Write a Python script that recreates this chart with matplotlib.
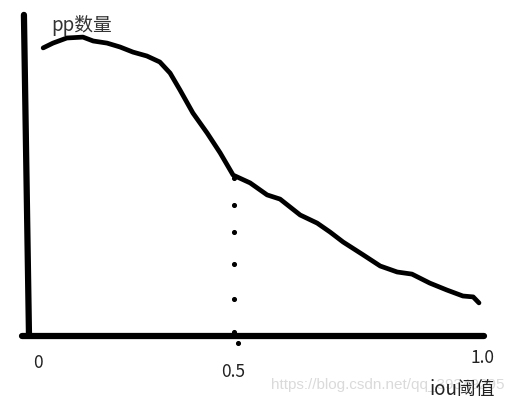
import matplotlib
matplotlib.use('Agg')
from matplotlib import pyplot as plt

plt.rcParams['font.family'] = ['Noto Sans CJK SC', 'DejaVu Sans']

# hand-drawn curve: iou threshold (x) vs pp count (y, arbitrary units)
iou = [0.016, 0.038, 0.069, 0.105, 0.128, 0.159, 0.188, 0.217, 0.248, 0.277,
       0.300, 0.322, 0.351, 0.383, 0.412, 0.441, 0.479, 0.517, 0.546, 0.591,
       0.629, 0.658, 0.687, 0.732, 0.770, 0.808, 0.841, 0.881, 0.919, 0.955,
       0.978, 0.991]
pp_count = [95.7, 97.3, 99.0, 99.3, 98.0, 97.3, 96.0, 94.3, 93.0, 91.0,
            87.3, 81.7, 74.0, 67.3, 60.7, 53.3, 50.7, 46.7, 45.3, 40.0,
            37.3, 34.3, 31.0, 26.7, 23.0, 21.0, 20.3, 17.3, 15.0, 13.0,
            12.7, 10.7]

# dotted marker at threshold 0.5
dot_x = [0.443, 0.443, 0.443, 0.443, 0.443, 0.443, 0.452]
dot_y = [52.3, 43.3, 34.3, 23.7, 12.0, 1.0, -2.7]

tick_labels = ['0', '0.5', '1.0']
# (x, y) in pixels of the sketch, where each label was written
tick_pix = [(38, 363), (233, 372), (483, 358)]

fig = plt.figure(figsize=(5.2, 4.03), dpi=100)
ax = fig.add_axes([0, 0, 1, 1])
ax.set_xlim(-36 / 447, 484 / 447)
ax.set_ylim(-68 / 3, 335 / 3)
ax.axis('off')

# thick hand-drawn axes
ax.plot([-0.0270, -0.0157], [106.7, 0], color='black', lw=4.5, solid_capstyle='round')
ax.plot([-0.031, 1.002], [-0.3, -0.3], color='black', lw=4.5, solid_capstyle='round')

ax.plot(iou, pp_count, color='black', lw=3.4, solid_capstyle='round', solid_joinstyle='round')
ax.scatter(dot_x, dot_y, s=7, color='black', zorder=3)

for lab, (px, py) in zip(tick_labels, tick_pix):
    fig.text(px / 520, 1 - py / 403, lab, ha='center', va='center', fontsize=12.5, color='#222222')

fig.text(51 / 520, 1 - 25 / 403, 'pp数量', ha='left', va='center', fontsize=13.5, color='#333333')

# faint csdn watermark behind the x label
fig.text(388 / 520, 1 - 385 / 403, 'https://blog.csdn.net/qq_39349295', ha='center', va='center',
         fontsize=11, color='#dadada', zorder=0, family=['Liberation Sans', 'DejaVu Sans'])
fig.text(462 / 520, 1 - 390 / 403, 'iou阈值', ha='center', va='center', fontsize=13.5, color='#222222',
         zorder=5)

fig.savefig('out.png', dpi=100)
